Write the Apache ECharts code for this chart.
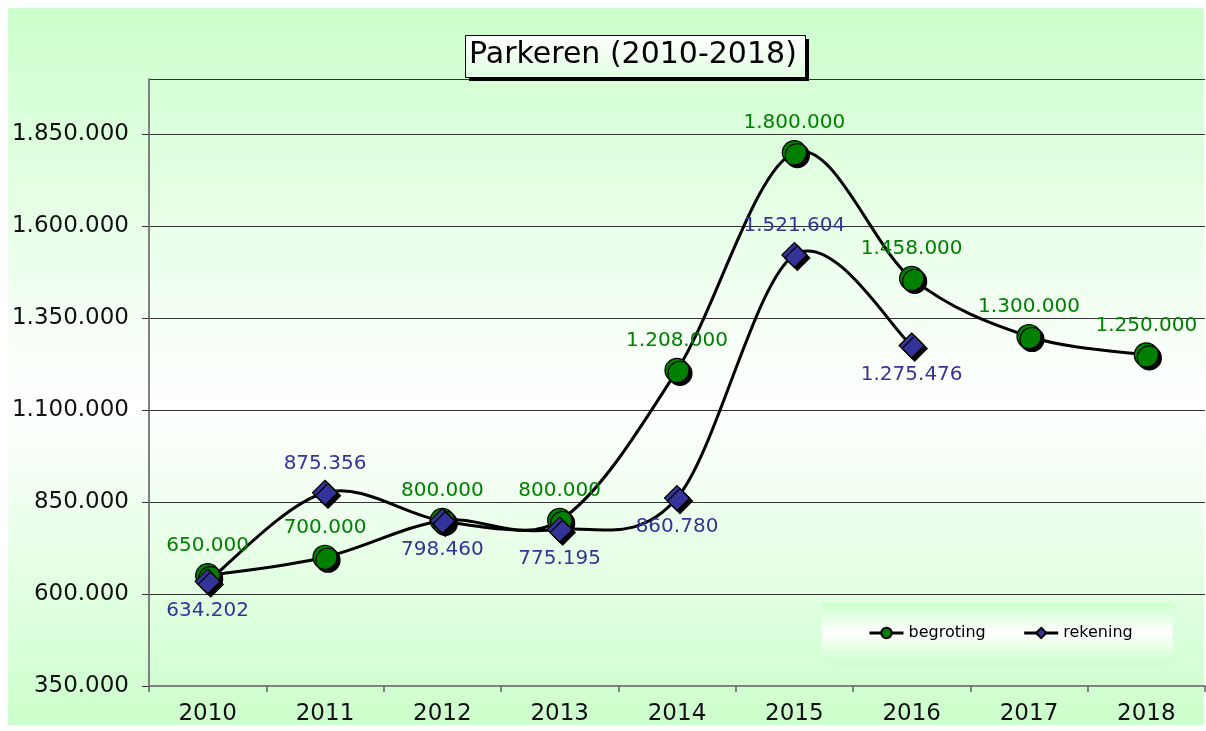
<!DOCTYPE html>
<html>
<head>
<meta charset="utf-8">
<script src="https://cdn.jsdelivr.net/npm/echarts@6/dist/echarts.min.js"></script>
<style>html,body{margin:0;padding:0;background:#fff;}#c{width:1206px;height:731px;}</style>
</head>
<body>
<div id="c"></div>
<script>
const years = ['2010','2011','2012','2013','2014','2015','2016','2017','2018'];
const begroting = [650000, 700000, 800000, 800000, 1208000, 1800000, 1458000, 1300000, 1250000];
const rekening = [634202, 875356, 798460, 775195, 860780, 1521604, 1275476, null, null];
const rekeningLabelSide = ['bottom','top','bottom','bottom','bottom','top','bottom','bottom','bottom'];
const yMin = 350000, yMax = 2000000, yStep = 250000;

function fmt(v){ return String(Math.round(v)).replace(/\B(?=(\d{3})+(?!\d))/g, '.'); }

const FONT = '"DejaVu Sans", Verdana, sans-serif';

// Smooth (Catmull-Rom style) curve through the data points, drawn via the axis scales
function curveSeries(vals, z) {
  return {
    type: 'custom', silent: true, z: z,
    data: vals.map((v, i) => [i, v == null ? 0 : v]),
    encode: {x: 0, y: 1},
    renderItem: function (params, api) {
      const i = params.dataIndex;
      const n = vals.length;
      if (i >= n - 1 || vals[i] == null || vals[i + 1] == null) return null;
      const pt = k => {
        if (k < 0 || k >= n || vals[k] == null) return null;
        return api.coord([k, vals[k]]);
      };
      const p1 = pt(i), p2 = pt(i + 1);
      const p0 = pt(i - 1) || p1, p3 = pt(i + 2) || p2;
      const t = 1 / 6;
      return {
        type: 'bezierCurve',
        shape: {
          x1: p1[0], y1: p1[1], x2: p2[0], y2: p2[1],
          cpx1: p1[0] + (p2[0] - p0[0]) * t, cpy1: p1[1] + (p2[1] - p0[1]) * t,
          cpx2: p2[0] - (p3[0] - p1[0]) * t, cpy2: p2[1] - (p3[1] - p1[1]) * t
        },
        style: {stroke: '#000', lineWidth: 3, fill: null, lineCap: 'round'}
      };
    }
  };
}

const chart = echarts.init(document.getElementById('c'), null, {renderer:'canvas'});
chart.setOption({
  backgroundColor: '#ffffff',
  animation: false,
  graphic: [
    {
      type: 'rect', z: -100, silent: true,
      shape: {x: 8, y: 8, width: 1196, height: 717},
      style: {fill: new echarts.graphic.LinearGradient(0,0,0,1,[
        {offset:0, color:'#ccffcc'},{offset:0.55, color:'#ffffff'},{offset:1, color:'#ccffcc'}])}
    },
    {
      type: 'rect', z: 4, silent: true,
      shape: {x: 469, y: 39, width: 340, height: 42},
      style: {fill: '#000'}
    },
    {
      type: 'rect', z: 5, silent: true,
      shape: {x: 465.5, y: 35.5, width: 340, height: 42},
      style: {fill: new echarts.graphic.LinearGradient(0,0,0,1,[
        {offset:0, color:'#ffffff'},{offset:1, color:'#e0ffe0'}]), stroke: '#000', lineWidth: 1}
    }
  ],
  title: {
    text: 'Parkeren (2010-2018)',
    left: 469, top: 40, padding: 0, z: 10,
    textStyle: {fontFamily: FONT, fontWeight: 'normal', fontSize: 30, color: '#000'}
  },
  legend: {
    left: 822, top: 603,
    padding: [22, 40, 22, 46],
    itemGap: 37, itemWidth: 34, itemHeight: 13,
    backgroundColor: new echarts.graphic.LinearGradient(0,0,0,1,[
      {offset:0, color:'#ccffcc'},{offset:0.5, color:'#ffffff'},{offset:1, color:'#ccffcc'}]),
    textStyle: {fontFamily: FONT, fontSize: 16, color: '#000'},
    data: [
      {name: 'begroting', lineStyle: {color: '#000', width: 3, opacity: 1}},
      {name: 'rekening', lineStyle: {color: '#000', width: 3, opacity: 1}}
    ]
  },
  grid: {left: 149, right: 1, top: 79, bottom: 45, containLabel: false},
  xAxis: {
    type: 'category', data: years, boundaryGap: true,
    axisLine: {lineStyle: {color: '#808080', width: 2}},
    axisTick: {show: true, length: 6, lineStyle: {color: '#606060', width: 1.5}},
    axisLabel: {fontFamily: FONT, fontSize: 23, color: '#111', margin: 17}
  },
  yAxis: {
    type: 'value', min: yMin, max: yMax, interval: yStep,
    axisLine: {show: true, lineStyle: {color: '#808080', width: 2}},
    axisTick: {show: true, length: 7, lineStyle: {color: '#333', width: 1}},
    axisLabel: {fontFamily: FONT, fontSize: 23, color: '#111', margin: 20, showMaxLabel: false,
      formatter: v => fmt(v)},
    splitLine: {show: true, lineStyle: {color: '#333', width: 1}}
  },
  series: [
    curveSeries(begroting, 1),
    curveSeries(rekening, 1),
    {
      name: 'begroting', type: 'line', data: begroting,
      symbol: 'circle', symbolSize: 24, showAllSymbol: true,
      lineStyle: {width: 0, opacity: 0},
      itemStyle: {color: '#008000', borderColor: '#000', borderWidth: 1.2,
        shadowColor: '#000', shadowBlur: 0, shadowOffsetX: 3, shadowOffsetY: 3},
      label: {show: true, position: 'top', distance: 7, fontFamily: FONT, fontSize: 20, color: '#008000',
        formatter: p => fmt(p.value)},
      z: 2
    },
    {
      name: 'rekening', type: 'line',
      data: rekening.map((v, i) => ({value: v, label: {position: rekeningLabelSide[i]}})),
      symbol: 'diamond', symbolSize: 25, showAllSymbol: true,
      lineStyle: {width: 0, opacity: 0},
      itemStyle: {color: '#333399', borderColor: '#000', borderWidth: 1.2,
        shadowColor: '#000', shadowBlur: 0, shadowOffsetX: 3, shadowOffsetY: 3},
      label: {show: true, distance: 6, fontFamily: FONT, fontSize: 20, color: '#333399',
        formatter: p => p.value == null ? '' : fmt(p.value)},
      z: 3
    }
  ]
});
</script>
</body>
</html>
